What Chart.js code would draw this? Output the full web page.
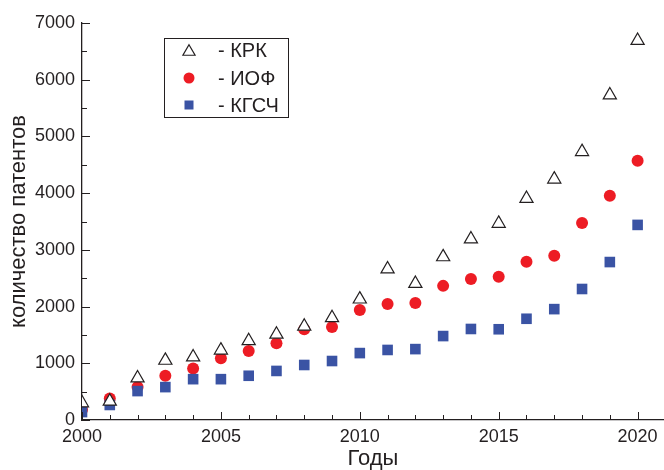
<!DOCTYPE html>
<html>
<head>
<meta charset="utf-8">
<script src="https://cdn.jsdelivr.net/npm/chart.js@4.4.1/dist/chart.umd.min.js"></script>
<style>
    html, body { margin: 0; padding: 0; background: #fff; }
    #chartWrap { width: 664px; height: 470px; position: relative; }
</style>
</head>
<body>
<div id="chartWrap"><canvas id="patentsChart"></canvas></div>
<script>
// Data
const years = [2000, 2001, 2002, 2003, 2004, 2005, 2006, 2007, 2008, 2009, 2010,
               2011, 2012, 2013, 2014, 2015, 2016, 2017, 2018, 2019, 2020];
const krkValues = [300, 330, 740, 1050, 1110, 1230, 1395, 1510, 1650, 1800, 2130,
                   2660, 2405, 2875, 3190, 3465, 3905, 4245, 4730, 5730, 6690];
const iofValues = [180, 380, 580, 780, 910, 1090, 1215, 1355, 1600, 1640, 1940,
                   2045, 2065, 2365, 2485, 2525, 2790, 2895, 3475, 3955, 4570];
const kgschValues = [140, 265, 510, 580, 720, 720, 780, 865, 970, 1040, 1180,
                     1235, 1250, 1480, 1605, 1600, 1785, 1955, 2310, 2785, 3440];
const seriesLabels = ['- КРК', '- ИОФ', '- КГСЧ'];
const xTickValues = [2000, 2005, 2010, 2015, 2020];
const yTickValues = [0, 1000, 2000, 3000, 4000, 5000, 6000, 7000];

const FONT = '"Liberation Sans", Arial, sans-serif';
const INK = '#231f20';
const RED = '#ed1c24';
const BLUE = '#3a53a4';

// Small inward tick marks, like the original plot
const inwardTicks = {
    id: 'inwardTicks',
    afterDatasetsDraw(chart) {
        const { ctx, chartArea, scales: { x, y } } = chart;
        ctx.save();
        ctx.strokeStyle = INK;
        ctx.lineWidth = 1;
        ctx.beginPath();
        years.forEach(yr => {
            const px = Math.round(x.getPixelForValue(yr)) + 0.5;
            const len = xTickValues.includes(yr) ? 8 : 5;
            ctx.moveTo(px, chartArea.bottom);
            ctx.lineTo(px, chartArea.bottom - len);
        });
        yTickValues.forEach((v, i) => {
            const py = Math.round(y.getPixelForValue(v)) + 0.5;
            ctx.moveTo(chartArea.left, py);
            ctx.lineTo(chartArea.left + 8, py);
            if (i < yTickValues.length - 1) {
                const pm = Math.round(y.getPixelForValue((v + yTickValues[i + 1]) / 2)) + 0.5;
                ctx.moveTo(chartArea.left, pm);
                ctx.lineTo(chartArea.left + 5, pm);
            }
        });
        ctx.stroke();
        ctx.restore();
    }
};

// Boxed legend inside the plot
const boxLegend = {
    id: 'boxLegend',
    afterDraw(chart) {
        const ctx = chart.ctx;
        const box = { x: 164.5, y: 38.5, w: 124, h: 79 };
        const rows = [50, 78, 105];
        const symX = 189;
        ctx.save();
        ctx.strokeStyle = INK;
        ctx.lineWidth = 1;
        ctx.strokeRect(box.x, box.y, box.w, box.h);

        // triangle
        ctx.beginPath();
        const r = 7;
        ctx.moveTo(symX, rows[0] - r * 0.75);
        ctx.lineTo(symX + r * 0.87, rows[0] + r * 0.75);
        ctx.lineTo(symX - r * 0.87, rows[0] + r * 0.75);
        ctx.closePath();
        ctx.fillStyle = '#fff';
        ctx.fill();
        ctx.lineWidth = 1.2;
        ctx.stroke();

        // circle
        ctx.beginPath();
        ctx.arc(symX, rows[1], 5.5, 0, Math.PI * 2);
        ctx.fillStyle = RED;
        ctx.fill();

        // square
        ctx.fillStyle = BLUE;
        ctx.fillRect(symX - 4.5, rows[2] - 4.5, 9, 9);

        ctx.fillStyle = INK;
        ctx.font = '20px ' + FONT;
        ctx.textBaseline = 'middle';
        ctx.textAlign = 'left';
        seriesLabels.forEach((label, i) => ctx.fillText(label, 218, rows[i] + 1));
        ctx.restore();
    }
};

const toPoints = values => values.map((v, i) => ({ x: years[i], y: v }));

new Chart(document.getElementById('patentsChart'), {
    type: 'scatter',
    data: {
        datasets: [
            {
                label: seriesLabels[0],
                data: toPoints(krkValues),
                pointStyle: 'triangle',
                pointRadius: 7.6,
                pointBackgroundColor: '#fff',
                pointBorderColor: INK,
                pointBorderWidth: 1.2,
                clip: 0,
                order: 0
            },
            {
                label: seriesLabels[1],
                data: toPoints(iofValues),
                pointStyle: 'circle',
                pointRadius: 6,
                pointBackgroundColor: RED,
                pointBorderWidth: 0,
                clip: 0,
                order: 2
            },
            {
                label: seriesLabels[2],
                data: toPoints(kgschValues),
                pointStyle: 'rect',
                pointRadius: 7.5,
                pointBackgroundColor: BLUE,
                pointBorderWidth: 0,
                clip: 0,
                order: 1
            }
        ]
    },
    options: {
        responsive: true,
        maintainAspectRatio: false,
        animation: false,
        layout: { autoPadding: false, padding: { top: 23, right: 0, bottom: 0, left: 0 } },
        plugins: {
            legend: { display: false },
            tooltip: { enabled: false }
        },
        scales: {
            x: {
                type: 'linear',
                min: 2000,
                max: 2020.95,
                afterFit(scale) {
                    scale.height = 50;
                    scale.paddingLeft = 0;
                    scale.paddingRight = 0;
                },
                grid: { drawOnChartArea: false, drawTicks: false },
                border: { color: INK, width: 1.3 },
                ticks: {
                    stepSize: 5,
                    includeBounds: false,
                    padding: 6,
                    color: INK,
                    font: { family: FONT, size: 18 },
                    callback: v => String(v)
                },
                title: {
                    display: true,
                    text: 'Годы',
                    color: INK,
                    font: { family: FONT, size: 22, lineHeight: 1 },
                    padding: { top: 0, bottom: 0 }
                }
            },
            y: {
                min: 0,
                max: 7000,
                afterFit(scale) { scale.width = 82; },
                grid: { drawOnChartArea: false, drawTicks: false },
                border: { color: INK, width: 1.3 },
                ticks: {
                    stepSize: 1000,
                    padding: 7,
                    color: INK,
                    font: { family: FONT, size: 18 },
                    callback: v => String(v)
                },
                title: {
                    display: true,
                    text: 'количество патентов',
                    color: INK,
                    font: { family: FONT, size: 22, lineHeight: 1 },
                    padding: { top: 8, bottom: 0 }
                }
            }
        }
    },
    plugins: [inwardTicks, boxLegend]
});
</script>
</body>
</html>
